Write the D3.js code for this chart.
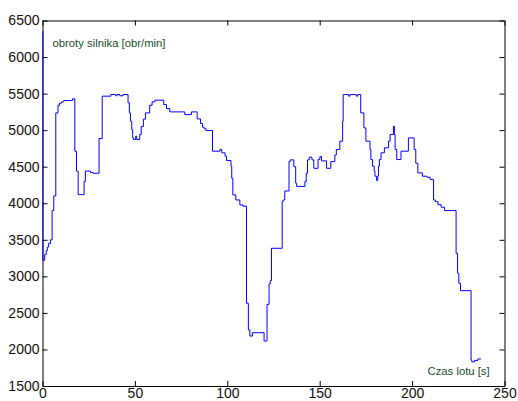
<!DOCTYPE html>
<html>
<head>
<meta charset="utf-8">
<script src="https://cdn.jsdelivr.net/npm/d3@7"></script>
<style>
  body { margin: 0; background: #fff; }
  svg text { font-family: "Liberation Sans", Arial, sans-serif; }
</style>
</head>
<body>
<script>
// czas [s] and obroty [obr/min], step samples
var czas = [0, 0.2, 1.2, 2.0, 2.6, 3.3, 4.3, 5.2, 6.1, 7.2, 8.4, 9.2, 10.3, 11.5, 16.2, 17.5, 18.4, 19.3, 22.5, 23.2,
  26.0, 27.4, 30.6, 32.3, 37.0, 39.7, 40.4, 41.8, 43.6, 46.3, 47.0, 47.6, 48.3, 48.8, 49.2, 50.4, 51.0, 52.6, 53.4,
  54.6, 55.7, 58.0, 59.3, 60.8, 65.6, 67.1, 68.9, 77.0, 80.6, 83.7, 85.5, 86.6, 87.5, 88.4, 92.0, 96.0, 97.0, 98.8,
  99.6, 102.0, 102.4, 103.0, 104.6, 106.8, 108.5, 110.4, 111.4, 112.2, 113.6, 119.9, 121.5, 122.6, 123.2, 123.9,
  129.7, 130.2, 131.1, 133.4, 134.0, 136.0, 137.0, 137.5, 142.0, 142.7, 143.4, 144.3, 145.8, 146.8, 149.1, 150.1,
  151.0, 153.7, 156.0, 158.2, 159.0, 160.9, 162.4, 162.7, 165.7, 166.4, 169.8, 170.6, 172.2, 173.9, 175.0, 177.2,
  177.7, 178.6, 179.5, 179.9, 180.8, 181.4, 181.8, 182.3, 183.2, 185.0, 187.2, 188.1, 189.9, 190.4, 190.8, 191.7,
  194.0, 198.0, 201.1, 202.0, 203.1, 205.6, 208.0, 209.8, 211.6, 212.5, 214.0, 215.7, 217.5, 223.8, 224.6, 225.3,
  226.2, 231.9, 232.3, 233.8, 235.6, 237.3];
var obroty = [6350, 3220, 3300, 3350, 3400, 3450, 3500, 3900, 4100, 5236, 5340, 5370, 5387, 5405, 5428, 4712, 4438, 4118, 4300, 4440,
  4420, 4410, 4885, 5465, 5487, 5470, 5487, 5470, 5487, 5373, 5236, 5122, 5008, 4894, 4871, 4916, 4871, 4940, 5049,
  5150, 5236, 5341, 5387, 5410, 5350, 5295, 5250, 5213, 5250, 5154, 5091, 5041, 5020, 4995, 4712, 4735, 4690, 4644,
  4584, 4507, 4342, 4114, 4045, 3977, 3960, 2631, 2266, 2183, 2229, 2115, 2617, 2896, 2940, 3384,
  4022, 4045, 4168, 4570, 4593, 4501, 4274, 4230, 4297, 4411, 4593, 4630, 4593, 4478, 4600, 4640,
  4580, 4478, 4570, 4661, 4735, 4849, 5122, 5487, 5465, 5487, 5465, 5487, 5236, 5031, 4849, 4735,
  4598, 4507, 4440, 4370, 4310, 4370, 4507, 4598, 4690, 4758, 4850, 4940, 5054, 4940, 4735, 4598,
  4712, 4894, 4735, 4548, 4415, 4370, 4356, 4324, 4045, 4022, 3980, 3946, 3900, 3316, 3042, 2905,
  2804, 1855, 1830, 1850, 1870, 1870];
var xTicks = [0, 50, 100, 150, 200, 250];
var yTicks = [1500, 2000, 2500, 3000, 3500, 4000, 4500, 5000, 5500, 6000, 6500];
var yLabel = "obroty silnika [obr/min]";
var xLabel = "Czas lotu [s]";

var W = 518, H = 401;
var pL = 42.5, pR = 504.5, pT = 20.5, pB = 386;

var svg = d3.select("body").append("svg")
    .attr("width", W)
    .attr("height", H);

var x = d3.scaleLinear().domain([0, 250]).range([pL, pR]);
var y = d3.scaleLinear().domain([1500, 6500]).range([pB, pT]);
var fmt = d3.format("d");

function styleAxis(g) {
  g.select(".domain").attr("stroke", "#000").attr("stroke-width", 1);
  g.selectAll(".tick line").attr("stroke", "#000");
  g.selectAll(".tick text").attr("fill", "#111").style("font-size", "14px");
}

svg.append("g").attr("transform", "translate(0," + pB + ")")
  .call(d3.axisBottom(x).tickValues(xTicks).tickFormat(fmt).tickSizeInner(-5).tickSizeOuter(0).tickPadding(2))
  .call(styleAxis);
svg.append("g").attr("transform", "translate(0," + pT + ")")
  .call(d3.axisTop(x).tickValues(xTicks).tickSizeInner(-5).tickSizeOuter(0).tickFormat(""))
  .call(styleAxis);
svg.append("g").attr("transform", "translate(" + pL + ",0)")
  .call(d3.axisLeft(y).tickValues(yTicks).tickFormat(fmt).tickSizeInner(-5).tickSizeOuter(0).tickPadding(3))
  .call(styleAxis);
svg.append("g").attr("transform", "translate(" + pR + ",0)")
  .call(d3.axisRight(y).tickValues(yTicks).tickSizeInner(-5).tickSizeOuter(0).tickFormat(""))
  .call(styleAxis);

var line = d3.line()
  .x(function (d, i) { return x(czas[i]); })
  .y(function (d) { return y(d); })
  .curve(d3.curveStepAfter);

svg.append("path")
  .datum(obroty)
  .attr("d", line)
  .attr("fill", "none")
  .attr("stroke", "#0000ff")
  .attr("stroke-width", 1);

svg.append("text")
  .attr("x", 52.5).attr("y", 47)
  .attr("fill", "#214d2b")
  .style("font-size", "11.3px")
  .text(yLabel);

svg.append("text")
  .attr("x", 427.5).attr("y", 375)
  .attr("fill", "#214d2b")
  .style("font-size", "11.3px")
  .text(xLabel);
</script>
</body>
</html>
